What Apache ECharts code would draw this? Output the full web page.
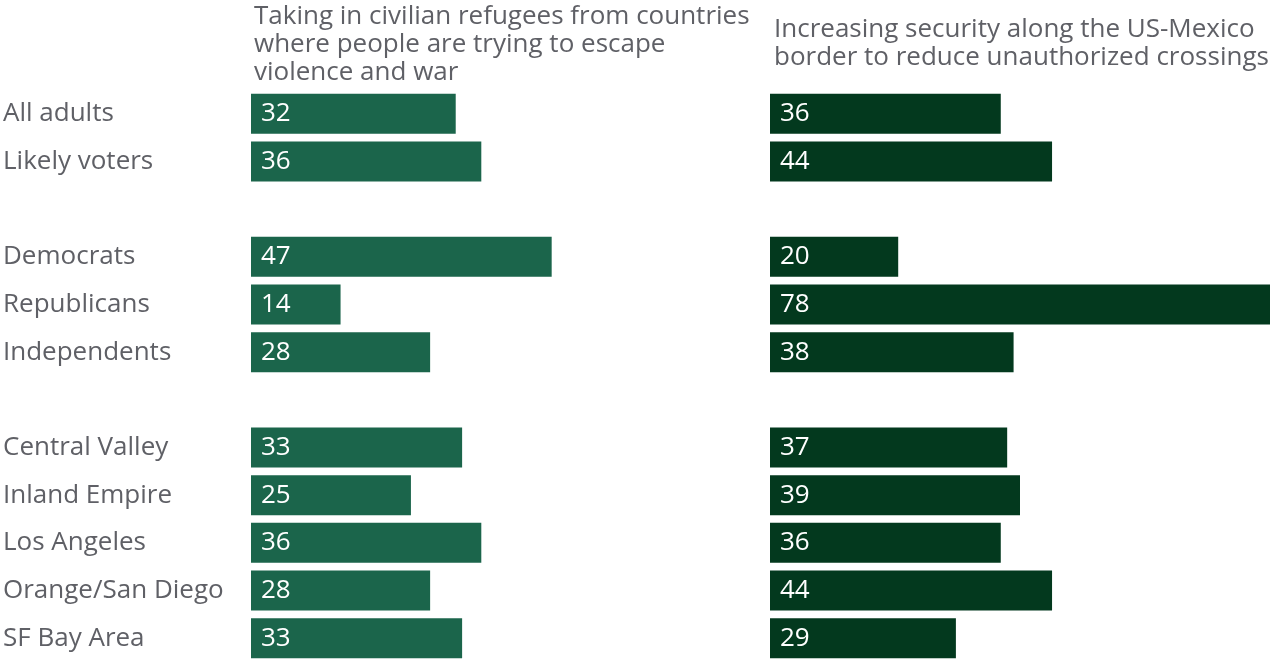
<!DOCTYPE html>
<html>
<head>
<meta charset="utf-8">
<title>Refugees and border security</title>
<script src="https://cdn.jsdelivr.net/npm/echarts@6/dist/echarts.min.js"></script>
<style>
html, body { margin: 0; padding: 0; background: #fff; }
#chart { width: 1280px; height: 662px; }
</style>
</head>
<body>
<div id="chart"></div>
<script>
// rows, '' = spacer between groups
var categories = ['All adults', 'Likely voters', '', 'Democrats', 'Republicans', 'Independents', '',
    'Central Valley', 'Inland Empire', 'Los Angeles', 'Orange/San Diego', 'SF Bay Area'];
var refugees = [32, 36, null, 47, 14, 28, null, 33, 25, 36, 28, 33];
var border = [36, 44, null, 20, 78, 38, null, 37, 39, 36, 44, 29];
var leftTitle = 'Taking in civilian refugees from countries\nwhere people are trying to escape\nviolence and war';
var rightTitle = 'Increasing security along the US-Mexico\nborder to reduce unauthorized crossings';

var FONT = 'Open Sans';
var FS = 26;
var GRAY = '#5f6066';

function barLabel() {
    return {
        show: true,
        position: 'insideLeft',
        distance: 10,
        color: '#fff',
        fontSize: FS,
        fontFamily: FONT,
        padding: [4, 0, 0, 0]
    };
}

var myChart = echarts.init(document.getElementById('chart'));
myChart.setOption({
    animation: false,
    title: [
        { text: leftTitle, left: 249, top: -2,
          textStyle: { color: GRAY, fontSize: FS, fontWeight: 'normal', fontFamily: FONT, lineHeight: 28 } },
        { text: rightTitle, left: 769, top: 11,
          textStyle: { color: GRAY, fontSize: FS, fontWeight: 'normal', fontFamily: FONT, lineHeight: 28 } }
    ],
    grid: [
        { left: 250, top: 90, width: 500, height: 576 },
        { left: 770, top: 90, width: 500, height: 576 }
    ],
    xAxis: [
        { gridIndex: 0, type: 'value', min: 0, max: 78, show: false },
        { gridIndex: 1, type: 'value', min: 0, max: 78, show: false }
    ],
    yAxis: [
        { gridIndex: 0, type: 'category', data: categories, inverse: true,
          axisLine: { show: false }, axisTick: { show: false },
          axisLabel: { align: 'left', margin: 248, color: GRAY, fontSize: FS, fontFamily: FONT,
                       padding: [4, 0, 0, 0] } },
        { gridIndex: 1, type: 'category', data: categories, inverse: true, show: false }
    ],
    series: [
        { type: 'bar', xAxisIndex: 0, yAxisIndex: 0, data: refugees, barWidth: 40,
          itemStyle: { color: '#1b654b' }, label: barLabel() },
        { type: 'bar', xAxisIndex: 1, yAxisIndex: 1, data: border, barWidth: 40,
          itemStyle: { color: '#03391e' }, label: barLabel() }
    ]
});
window.onresize = myChart.resize;
</script>
</body>
</html>
